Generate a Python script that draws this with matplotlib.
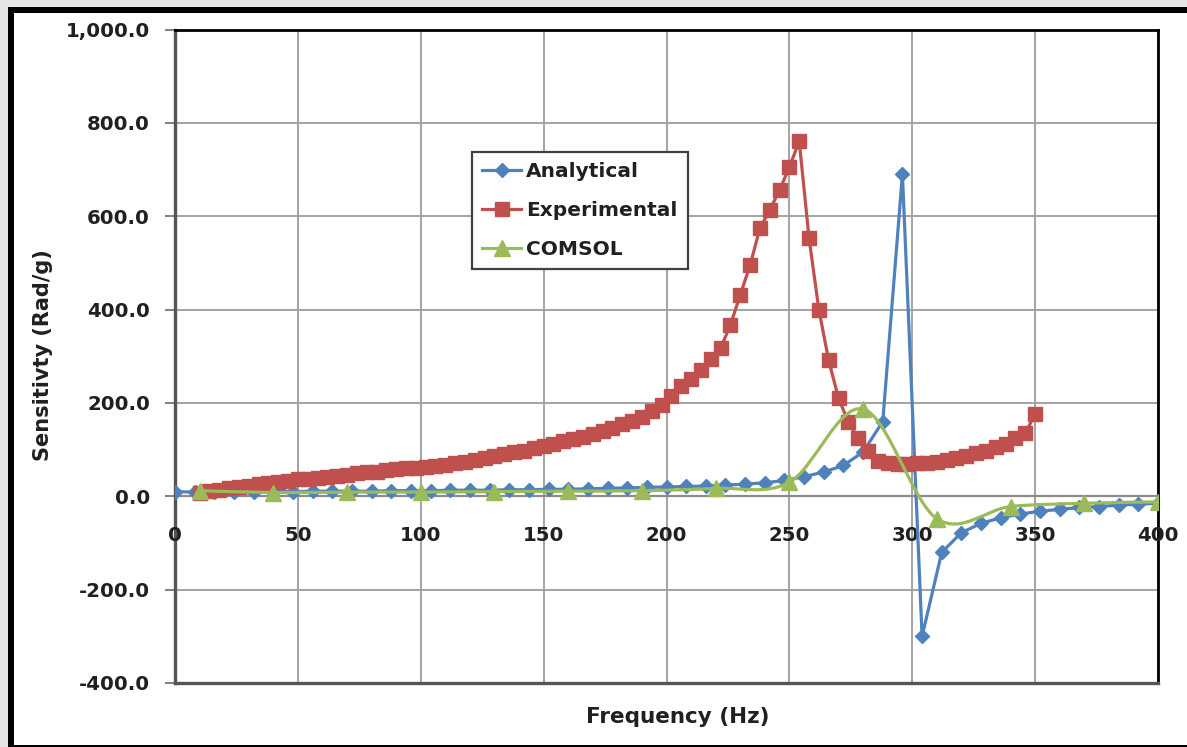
import numpy as np
import matplotlib
matplotlib.use("Agg")
import matplotlib.pyplot as plt
from matplotlib.path import Path
from matplotlib.patches import PathPatch, Rectangle
from matplotlib.lines import Line2D

# ---------------- data ----------------
analytical_f = [0, 8, 16, 24, 32, 40, 48, 56, 64, 72, 80, 88, 96, 104, 112, 120,
                128, 136, 144, 152, 160, 168, 176, 184, 192, 200, 208, 216, 224,
                232, 240, 248, 256, 264, 272, 280, 288, 296, 304, 312, 320, 328,
                336, 344, 352, 360, 368, 376, 384, 392, 400]
analytical_v = [10, 9, 9, 10, 10, 10, 10, 11, 11, 11, 11, 12, 12, 12, 13, 13,
                13, 14, 14, 15, 15, 16, 17, 18, 19, 20, 21, 22, 24,
                26, 29, 34, 42, 52, 66, 95, 160, 690, -300, -120, -78, -58,
                -46, -38, -32, -28, -24, -22, -19, -17, -15]

experimental_f = [10, 14, 18, 22, 26, 30, 34, 38, 42, 46, 50, 54, 58, 62, 66, 70,
                  74, 78, 82, 86, 90, 94, 98, 102, 106, 110, 114, 118, 122, 126,
                  130, 134, 138, 142, 146, 150, 154, 158, 162, 166, 170, 174, 178,
                  182, 186, 190, 194, 198, 202, 206, 210, 214, 218, 222, 226, 230,
                  234, 238, 242, 246, 250, 254, 258, 262, 266, 270, 274, 278, 282,
                  286, 290, 294, 298, 302, 306, 310, 314, 318, 322, 326, 330, 334,
                  338, 342, 346, 350]
experimental_v = [8, 11, 14, 17, 20, 23, 26, 28, 30, 33, 36, 38, 40, 42, 44, 46,
                  49, 51, 53, 56, 58, 60, 61, 63, 65, 68, 71, 74, 78, 82,
                  86, 90, 94, 98, 103, 108, 113, 118, 123, 128, 134, 140, 146,
                  154, 162, 170, 182, 195, 215, 236, 252, 270, 295, 317, 367, 431,
                  495, 574, 613, 656, 705, 761, 553, 400, 291, 210, 159, 124, 97,
                  76, 71, 70, 70, 71, 72, 74, 77, 81, 86, 92, 98, 105,
                  113, 124, 135, 176]

comsol_f = [10, 40, 70, 100, 130, 160, 190, 220, 250, 280, 310, 340, 370, 400]
comsol_v = [12, 8, 9, 9, 10, 11, 12, 17, 30, 187, -48, -22, -15, -12]

x_ticks = [0, 50, 100, 150, 200, 250, 300, 350, 400]
y_ticks = [-400, -200, 0, 200, 400, 600, 800, 1000]

labels = ["Analytical", "Experimental", "COMSOL"]
xlabel = "Frequency (Hz)"
ylabel = "Sensitivty (Rad/g)"

# ---------------- style ----------------
BLUE = "#4F81BD"
RED = "#C0504D"
GREEN = "#9BBB59"
TXT = "#202020"
FONT = "DejaVu Sans"

W, H = 1187, 747
fig = plt.figure(figsize=(W / 100, H / 100), dpi=100)
fig.patch.set_facecolor("#e6e6e6")

# screenshot-like frame (black top/left border, white page)
fig.add_artist(Rectangle((8 / W, 0), 1, 1 - 7 / H, transform=fig.transFigure,
                         facecolor="black", edgecolor="none", zorder=-10))
fig.add_artist(Rectangle((14 / W, 2 / H), 1, 1 - 13 / H - 2 / H, transform=fig.transFigure,
                         facecolor="white", edgecolor="none", zorder=-9))

L, R, T, B = 175, 1158, 29.5, 683
ax = fig.add_axes([L / W, 1 - B / H, (R - L) / W, (B - T) / H])
ax.set_facecolor("white")
ax.set_xlim(0, 400)
ax.set_ylim(-400, 1000)

ax.set_xticks(x_ticks)
ax.set_yticks(y_ticks)
ax.grid(True, color="#a3a3a3", lw=1.4)
ax.set_axisbelow(True)

for s in ["top", "right"]:
    ax.spines[s].set_color("black")
    ax.spines[s].set_linewidth(2.0)
for s in ["left", "bottom"]:
    ax.spines[s].set_color("#555555")
    ax.spines[s].set_linewidth(2.4)

TICK_FS = 14.2
ax.tick_params(axis="y", length=7, width=1.4, color="#808080", pad=11,
               labelsize=TICK_FS, labelcolor=TXT)
ax.set_yticklabels([f"{v:,.1f}" for v in y_ticks], fontfamily=FONT, fontweight="bold")
ax.tick_params(axis="x", length=0, labelbottom=False)
for t in x_ticks:
    ax.annotate(str(t), xy=(t, 0), xytext=(0, -39), textcoords="offset pixels",
                ha="center", va="center", fontsize=TICK_FS, fontweight="bold",
                fontfamily=FONT, color=TXT)
ax.axhline(0, color="#8c8c8c", lw=1.6, zorder=1)

# series
ax.plot(analytical_f, analytical_v, color=BLUE, lw=2.3, marker="D", ms=7,
        mfc=BLUE, mec=BLUE, zorder=3)
ax.plot(experimental_f, experimental_v, color=RED, lw=2.3, marker="s", ms=9.5,
        mfc=RED, mec=RED, zorder=4)

# smoothed COMSOL curve (Excel-like smoothing, cubic Bezier through the points)
P = np.column_stack([comsol_f, comsol_v]).astype(float)
n = len(P)
verts = [tuple(P[0])]
codes = [Path.MOVETO]
for i in range(n - 1):
    p0 = P[i - 1] if i > 0 else P[i]
    p1 = P[i]
    p2 = P[i + 1]
    p3 = P[i + 2] if i + 2 < n else P[i + 1]
    c1 = p1 + (p2 - p0) / 6.0
    c2 = p2 - (p3 - p1) / 6.0
    verts += [tuple(c1), tuple(c2), tuple(p2)]
    codes += [Path.CURVE4] * 3
ax.add_patch(PathPatch(Path(verts, codes), facecolor="none", edgecolor=GREEN,
                       lw=2.3, zorder=5, capstyle="round", joinstyle="round"))
ax.plot(comsol_f, comsol_v, ls="none", marker="^", ms=11, mfc=GREEN, mec=GREEN,
        zorder=6)

handles = [
    Line2D([], [], color=BLUE, lw=2.3, marker="D", ms=7),
    Line2D([], [], color=RED, lw=2.3, marker="s", ms=9.5),
    Line2D([], [], color=GREEN, lw=2.3, marker="^", ms=11),
]
leg = ax.legend(handles, labels, loc="upper left",
                bbox_to_anchor=(472 / W, 1 - 152 / H), bbox_transform=fig.transFigure,
                prop={"family": FONT, "weight": "bold", "size": 14.5},
                frameon=True, fancybox=False, framealpha=1, edgecolor="#404040",
                handlelength=1.95, handletextpad=0.25, labelspacing=1.0,
                borderpad=0.5, borderaxespad=0)
leg.get_frame().set_linewidth(1.6)
for t in leg.get_texts():
    t.set_color(TXT)

fig.text(678 / W, 1 - 717 / H, xlabel, ha="center", va="center", fontsize=15.5,
         fontweight="bold", fontfamily=FONT, color=TXT)
fig.text(43 / W, 1 - 355 / H, ylabel, ha="center", va="center", rotation=90,
         fontsize=15, fontweight="bold", fontfamily=FONT, color=TXT)

fig.savefig("out.png", dpi=100, facecolor=fig.get_facecolor())
